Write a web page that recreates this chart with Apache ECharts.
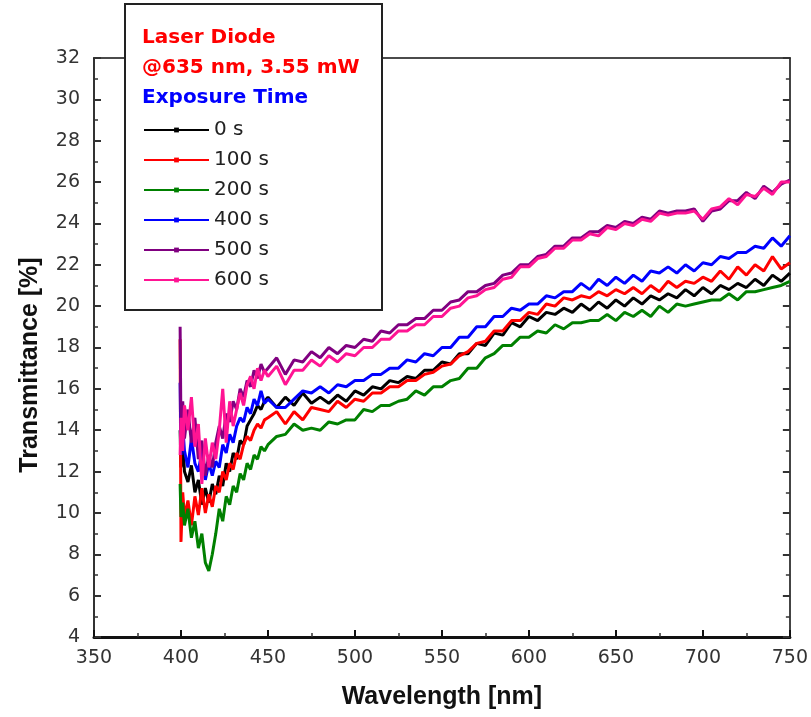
<!DOCTYPE html>
<html>
<head>
<meta charset="utf-8">
<script src="https://cdn.jsdelivr.net/npm/echarts@6/dist/echarts.min.js"></script>
<style>
html,body{margin:0;padding:0;background:#fff;}
#chart{width:811px;height:717px;}
</style>
</head>
<body>
<div id="chart"></div>
<script>
// Wavelength samples (nm)
const wavelength = [399.5, 400, 401, 402, 404, 406, 408, 410, 412, 414, 416, 418, 420, 422, 424, 426, 428, 430, 432, 434, 436, 438, 440, 442, 444, 446, 448,
  450, 455, 460, 465, 470, 475, 480, 485, 490, 495, 500, 505, 510, 515, 520, 525, 530, 535, 540, 545,
  550, 555, 560, 565, 570, 575, 580, 585, 590, 595, 600, 605, 610, 615, 620, 625, 630, 635, 640, 645,
  650, 655, 660, 665, 670, 675, 680, 685, 690, 695, 700, 705, 710, 715, 720, 725, 730, 735, 740, 745, 750];

const seriesNames = ['0 s', '100 s', '200 s', '400 s', '500 s', '600 s'];

const t0 = [14.0, 12.2, 13.5, 12.0, 11.5, 12.3, 11.0, 11.6, 10.4, 11.2, 10.5, 11.4, 10.9, 11.8, 11.3, 12.4, 12.0, 12.9, 12.6, 13.5, 13.3, 14.2, 14.5, 14.8, 15.2, 15.0, 15.4,
  15.6, 15.1, 15.6, 15.2, 15.8, 15.3, 15.6, 15.3, 15.7, 15.4,
  15.9, 15.7, 16.1, 16.0, 16.4, 16.3, 16.6, 16.5, 16.9, 16.9,
  17.3, 17.2, 17.7, 17.7, 18.2, 18.1, 18.7, 18.6, 19.2, 19.0,
  19.5, 19.3, 19.7, 19.6, 19.9, 19.7, 20.1, 19.8, 20.2, 19.9,
  20.3, 20.0, 20.4, 20.1, 20.5, 20.3, 20.6, 20.4, 20.8, 20.5,
  20.9, 20.6, 21.0, 20.8, 21.1, 20.9, 21.3, 21.0, 21.5, 21.2, 21.6];

const t100 = [18.4, 8.6, 11.0, 9.8, 10.6, 9.4, 10.8, 9.9, 11.2, 10.0, 10.9, 10.3, 11.3, 11.0, 12.0, 11.6, 12.4, 12.1, 12.9, 12.6, 13.3, 13.7, 13.5, 14.0, 14.3, 14.1, 14.5,
  14.6, 14.9, 14.3, 14.9, 14.5, 15.1, 15.0, 14.9, 15.4, 15.1,
  15.5, 15.4, 15.8, 15.8, 16.1, 16.1, 16.4, 16.4, 16.7, 16.8,
  17.1, 17.2, 17.6, 17.8, 18.2, 18.3, 18.8, 18.8, 19.3, 19.3,
  19.7, 19.6, 20.1, 20.0, 20.4, 20.3, 20.5, 20.4, 20.7, 20.5,
  20.8, 20.6, 20.9, 20.6, 21.0, 20.7, 21.2, 20.9, 21.2, 21.1,
  21.4, 21.2, 21.7, 21.3, 21.9, 21.5, 22.0, 21.7, 22.4, 21.8, 22.1];

const t200 = [11.4, 9.8, 10.5, 9.4, 10.2, 8.8, 9.6, 8.3, 9.0, 7.6, 7.2, 8.0, 9.0, 10.2, 9.6, 10.8, 10.4, 11.3, 11.0, 11.9, 11.6, 12.4, 12.1, 12.8, 12.6, 13.2, 13.0,
  13.3, 13.7, 13.8, 14.3, 14.0, 14.1, 14.0, 14.4, 14.3, 14.5,
  14.5, 15.0, 14.9, 15.2, 15.2, 15.4, 15.5, 15.9, 15.7, 16.1,
  16.1, 16.4, 16.5, 17.0, 17.0, 17.5, 17.7, 18.1, 18.1, 18.5,
  18.5, 18.8, 18.7, 19.1, 18.9, 19.2, 19.2, 19.3, 19.3, 19.6,
  19.3, 19.7, 19.5, 19.8, 19.5, 20.0, 19.7, 20.1, 20.0, 20.1,
  20.2, 20.3, 20.3, 20.6, 20.3, 20.7, 20.7, 20.8, 20.9, 21.0, 21.2];

const t400 = [16.3, 12.8, 14.2, 13.0, 12.2, 13.6, 12.4, 12.0, 13.0, 11.6, 12.4, 11.8, 12.5, 12.2, 13.3, 12.9, 13.8, 13.4, 14.2, 14.6, 14.4, 15.1, 14.8, 15.5, 15.2, 15.9, 15.3,
  15.5, 15.1, 15.1, 15.5, 15.9, 15.8, 16.1, 15.8, 16.2, 16.1,
  16.4, 16.4, 16.7, 16.7, 17.0, 17.0, 17.4, 17.3, 17.7, 17.6,
  18.0, 18.0, 18.5, 18.5, 19.0, 19.0, 19.5, 19.5, 19.9, 19.8,
  20.1, 20.1, 20.5, 20.4, 20.7, 20.7, 21.1, 20.8, 21.3, 21.0,
  21.4, 21.1, 21.5, 21.2, 21.7, 21.6, 21.9, 21.6, 22.0, 21.7,
  22.1, 22.0, 22.4, 22.3, 22.6, 22.6, 22.9, 22.8, 23.3, 22.9, 23.4];

const t500 = [19.0, 14.0, 15.4, 13.6, 15.0, 13.4, 14.6, 12.6, 13.5, 11.8, 12.8, 12.2, 13.4, 14.2, 13.6, 14.8, 14.4, 15.4, 15.0, 16.0, 15.6, 16.4, 16.1, 16.9, 16.5, 17.2, 16.8,
  17.0, 17.5, 16.7, 17.4, 17.3, 17.8, 17.5, 18.0, 17.7, 18.1,
  18.0, 18.4, 18.3, 18.8, 18.7, 19.1, 19.1, 19.4, 19.4, 19.8,
  19.8, 20.2, 20.3, 20.7, 20.7, 21.0, 21.1, 21.5, 21.6, 22.0,
  22.0, 22.4, 22.5, 22.9, 22.9, 23.3, 23.3, 23.6, 23.6, 23.9,
  23.8, 24.1, 24.0, 24.3, 24.2, 24.6, 24.5, 24.6, 24.6, 24.7,
  24.1, 24.6, 24.7, 25.1, 25.1, 25.5, 25.2, 25.8, 25.5, 25.9, 26.1];

const t600 = [12.8, 14.6, 13.0, 15.2, 14.0, 15.6, 13.2, 14.3, 11.4, 13.6, 12.2, 13.4, 12.6, 14.0, 16.0, 13.4, 15.4, 14.2, 15.0, 15.8, 15.2, 16.2, 16.6, 16.0, 17.0, 16.4, 16.9,
  16.6, 17.1, 16.2, 16.9, 16.9, 17.4, 17.1, 17.6, 17.3, 17.7,
  17.6, 18.0, 18.0, 18.4, 18.4, 18.8, 18.8, 19.1, 19.1, 19.5,
  19.5, 19.9, 20.0, 20.4, 20.5, 20.8, 20.9, 21.3, 21.4, 21.9,
  21.9, 22.3, 22.4, 22.8, 22.8, 23.2, 23.2, 23.5, 23.4, 23.8,
  23.7, 24.0, 23.9, 24.2, 24.1, 24.5, 24.4, 24.5, 24.5, 24.6,
  24.2, 24.7, 24.8, 25.2, 24.9, 25.4, 25.3, 25.7, 25.4, 26.0, 26.0];

const seriesValues = [t0, t100, t200, t400, t500, t600];
const colors = ['#000000', '#ff0000', '#008000', '#0000ff', '#800080', '#ff1493'];

const xTicks = { min: 350, max: 750, interval: 50 };
const yTicks = { min: 4, max: 32, interval: 2 };

const chart = echarts.init(document.getElementById('chart'), null, { renderer: 'canvas' });

const tickLabel = { fontFamily: 'DejaVu Sans', fontSize: 19, color: '#333' };

const option = {
  animation: false,
  backgroundColor: '#fff',
  grid: { left: 94, right: 18, top: 58, bottom: 80 },
  xAxis: [
    {
      type: 'value', position: 'bottom', min: xTicks.min, max: xTicks.max, interval: xTicks.interval,
      axisLine: { show: true, onZero: false, lineStyle: { color: '#111', width: 3 } },
      axisTick: { show: true, inside: true, length: 7, lineStyle: { color: '#111', width: 2 } },
      minorTick: { show: true, splitNumber: 2, length: 4, lineStyle: { color: '#333', width: 1.5 } },
      axisLabel: Object.assign({ margin: 12 }, tickLabel),
      splitLine: { show: false },
      name: 'Wavelength [nm]', nameLocation: 'middle', nameGap: 48,
      nameTextStyle: { fontFamily: 'Liberation Sans', fontWeight: 'bold', fontSize: 25, color: '#111' }
    },
    {
      type: 'value', position: 'top', min: xTicks.min, max: xTicks.max, interval: xTicks.interval,
      axisLine: { show: true, onZero: false, lineStyle: { color: '#111', width: 1.5 } },
      axisTick: { show: false }, axisLabel: { show: false }, splitLine: { show: false }
    }
  ],
  yAxis: [
    {
      type: 'value', position: 'left', min: yTicks.min, max: yTicks.max, interval: yTicks.interval,
      axisLine: { show: true, onZero: false, lineStyle: { color: '#333', width: 2 } },
      axisTick: { show: true, inside: true, length: 7, lineStyle: { color: '#333', width: 2 } },
      minorTick: { show: true, splitNumber: 2, length: 4, lineStyle: { color: '#333', width: 1.5 } },
      axisLabel: Object.assign({ margin: 14 }, tickLabel),
      splitLine: { show: false }
    },
    {
      type: 'value', position: 'right', min: yTicks.min, max: yTicks.max, interval: yTicks.interval,
      axisLine: { show: true, onZero: false, lineStyle: { color: '#444', width: 2 } },
      axisTick: { show: true, inside: true, length: 7, lineStyle: { color: '#333', width: 2 } },
      minorTick: { show: true, splitNumber: 2, length: 4, lineStyle: { color: '#333', width: 1.5 } },
      axisLabel: { show: false }, splitLine: { show: false }
    }
  ],
  legend: {
    orient: 'vertical', left: 143, top: 120, padding: 0, z: 120,
    itemWidth: 65, itemHeight: 6, itemGap: 10,
    textStyle: { fontFamily: 'DejaVu Sans', fontSize: 20, color: '#222', padding: [0, 0, 0, 0] },
    data: seriesNames
  },
  graphic: [
    { type: 'rect', z: 100, shape: { x: 125, y: 4, width: 257, height: 306 },
      style: { fill: '#fff', stroke: '#222', lineWidth: 2 } },
    { type: 'text', z: 101, x: 142, y: 38,
      style: { text: 'Laser Diode', fill: '#ff0000', font: 'bold 20px "DejaVu Sans"', textVerticalAlign: 'middle' } },
    { type: 'text', z: 101, x: 142, y: 68,
      style: { text: '@635 nm, 3.55 mW', fill: '#ff0000', font: 'bold 20px "DejaVu Sans"', textVerticalAlign: 'middle' } },
    { type: 'text', z: 101, x: 142, y: 98,
      style: { text: 'Exposure Time', fill: '#0000ff', font: 'bold 20px "DejaVu Sans"', textVerticalAlign: 'middle' } },
    { type: 'text', z: 101, x: 30, y: 365, rotation: Math.PI / 2,
      style: { text: 'Transmittance [%]', fill: '#111', font: 'bold 25px "Liberation Sans"', textAlign: 'center', textVerticalAlign: 'middle' } }
  ],
  series: seriesNames.map((name, i) => ({
    name: name,
    type: 'line',
    xAxisIndex: 0, yAxisIndex: 0,
    data: wavelength.map((w, k) => [w, seriesValues[i][k]]),
    symbol: 'rect', symbolSize: 5, showSymbol: false,
    lineStyle: { color: colors[i], width: 3 },
    itemStyle: { color: colors[i] },
    z: 2 + i
  }))
};

chart.setOption(option);
</script>
</body>
</html>
